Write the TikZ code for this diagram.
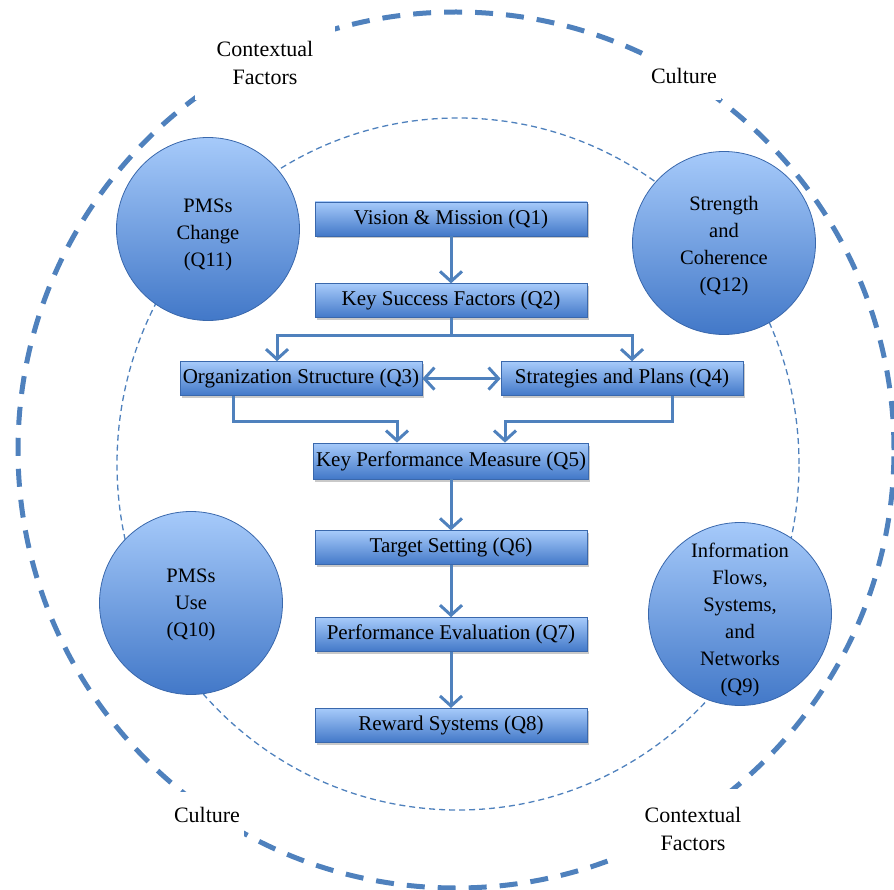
\documentclass[tikz,border=0pt]{standalone}
\usepackage{fontspec}
\setmainfont{Liberation Serif}
\usepackage{tikz}
\usepackage{xcolor}
\usetikzlibrary{arrows.meta, positioning, shadows}

\definecolor{pmsblue}{RGB}{79,129,189}
\definecolor{pmsline}{RGB}{58,104,172}
\definecolor{pmstop}{RGB}{166,202,250}
\definecolor{pmsbottom}{RGB}{66,120,200}

\begin{document}
\begin{tikzpicture}[x=1pt, y=-1pt,
        stage/.style={rectangle, draw=pmsline, line width=0.8pt, top color=pmstop, bottom color=pmsbottom, minimum width=272pt, minimum height=34pt, inner sep=0pt, font=\fontsize{21}{24}\selectfont, drop shadow={shadow xshift=1.5pt, shadow yshift=-2.5pt, opacity=0.3, fill=black!70}},
        sidebox/.style={stage, minimum width=242pt},
        theme/.style={circle, draw=pmsline, line width=0.8pt, top color=pmstop, bottom color=pmsbottom, minimum size=183pt, inner sep=0pt},
        themetext/.style={inner sep=0pt, align=center, font=\fontsize{20.5}{27}\selectfont},
        factor/.style={rectangle, fill=white, inner sep=0pt, align=center, font=\fontsize{22}{28}\selectfont},
        flow/.style={-{Straight Barb[length=10pt, width=22pt]}, line width=3pt, pmsblue},
        twoway/.style={flow, {Straight Barb[length=10pt, width=22pt]}-{Straight Barb[length=10pt, width=22pt]}}
    ]
    \useasboundingbox (0,0) rectangle (894,890);

    % --- 1. OUTER AND INNER RINGS ---
    \draw [pmsblue, line width=5pt, dash pattern=on 18pt off 13pt] (456,450) circle [radius=438pt];
    \draw [pmsblue, line width=1.3pt, dash pattern=on 6pt off 4pt] (458,464) ellipse [x radius=341pt, y radius=346pt];

    % Ring labels
    \node [factor, minimum width=140pt, minimum height=74pt] (ctx_top) at (265,63) {Contextual\\Factors};
    \node [factor, minimum width=74pt, minimum height=48pt] (cult_top) at (684,76) {Culture};
    \node [factor, minimum width=74pt, minimum height=46pt] (cult_bot) at (207,815) {Culture};
    \node [factor, minimum width=150pt, minimum height=80pt] (ctx_bot) at (693,829) {Contextual\\Factors};

    % --- 2. THEME CIRCLES ---
    \node [theme] (change) at (208,229) {};
    \node [themetext, yshift=-6pt] (change_txt) at (change) {PMSs\\Change\\(Q11)};
    \node [theme] (coherence) at (724,243) {};
    \node [themetext, yshift=-3pt] (coherence_txt) at (coherence) {Strength\\and\\Coherence\\(Q12)};
    \node [theme] (use) at (191,603) {};
    \node [themetext, yshift=-2pt] (use_txt) at (use) {PMSs\\Use\\(Q10)};
    \node [theme] (info) at (740,614) {};
    \node [themetext, yshift=-6pt] (info_txt) at (info) {Information\\Flows,\\Systems,\\and\\Networks\\(Q9)};

    % --- 3. PMS CHAIN ---
    \node [stage] (q1) at (451,219) {Vision \& Mission (Q1)};
    \node [stage, below=47pt of q1] (q2) {Key Success Factors (Q2)};
    \node [sidebox, below=43pt of q2, xshift=-150pt] (q3) {Organization Structure (Q3)};
    \node [sidebox, below=43pt of q2, xshift=171pt] (q4) {Strategies and Plans (Q4)};
    \node [stage, minimum width=275pt, minimum height=36pt] (q5) at (451,461) {Key Performance Measure (Q5)};
    \node [stage, below=51pt of q5] (q6) {Target Setting (Q6)};
    \node [stage, below=52pt of q6] (q7) {Performance Evaluation (Q7)};
    \node [stage, below=56pt of q7] (q8) {Reward Systems (Q8)};

    % Connectors
    \draw [flow] (q1) -- (q2);
    \draw [flow] (q2.south) -- ++(0,17) -| ([xshift=-24pt]q3.north);
    \draw [flow] (q2.south) -- ++(0,17) -| ([xshift=10pt]q4.north);
    \draw [twoway] (q3) -- (q4);
    \draw [flow] ([xshift=-68pt]q3.south) -- ++(0,25) -| ([xshift=-54pt]q5.north);
    \draw [flow] ([xshift=50pt]q4.south) -- ++(0,25) -| ([xshift=54pt]q5.north);
    \draw [flow] (q5) -- (q6);
    \draw [flow] (q6) -- (q7);
    \draw [flow] (q7) -- (q8);

\end{tikzpicture}
\end{document}
